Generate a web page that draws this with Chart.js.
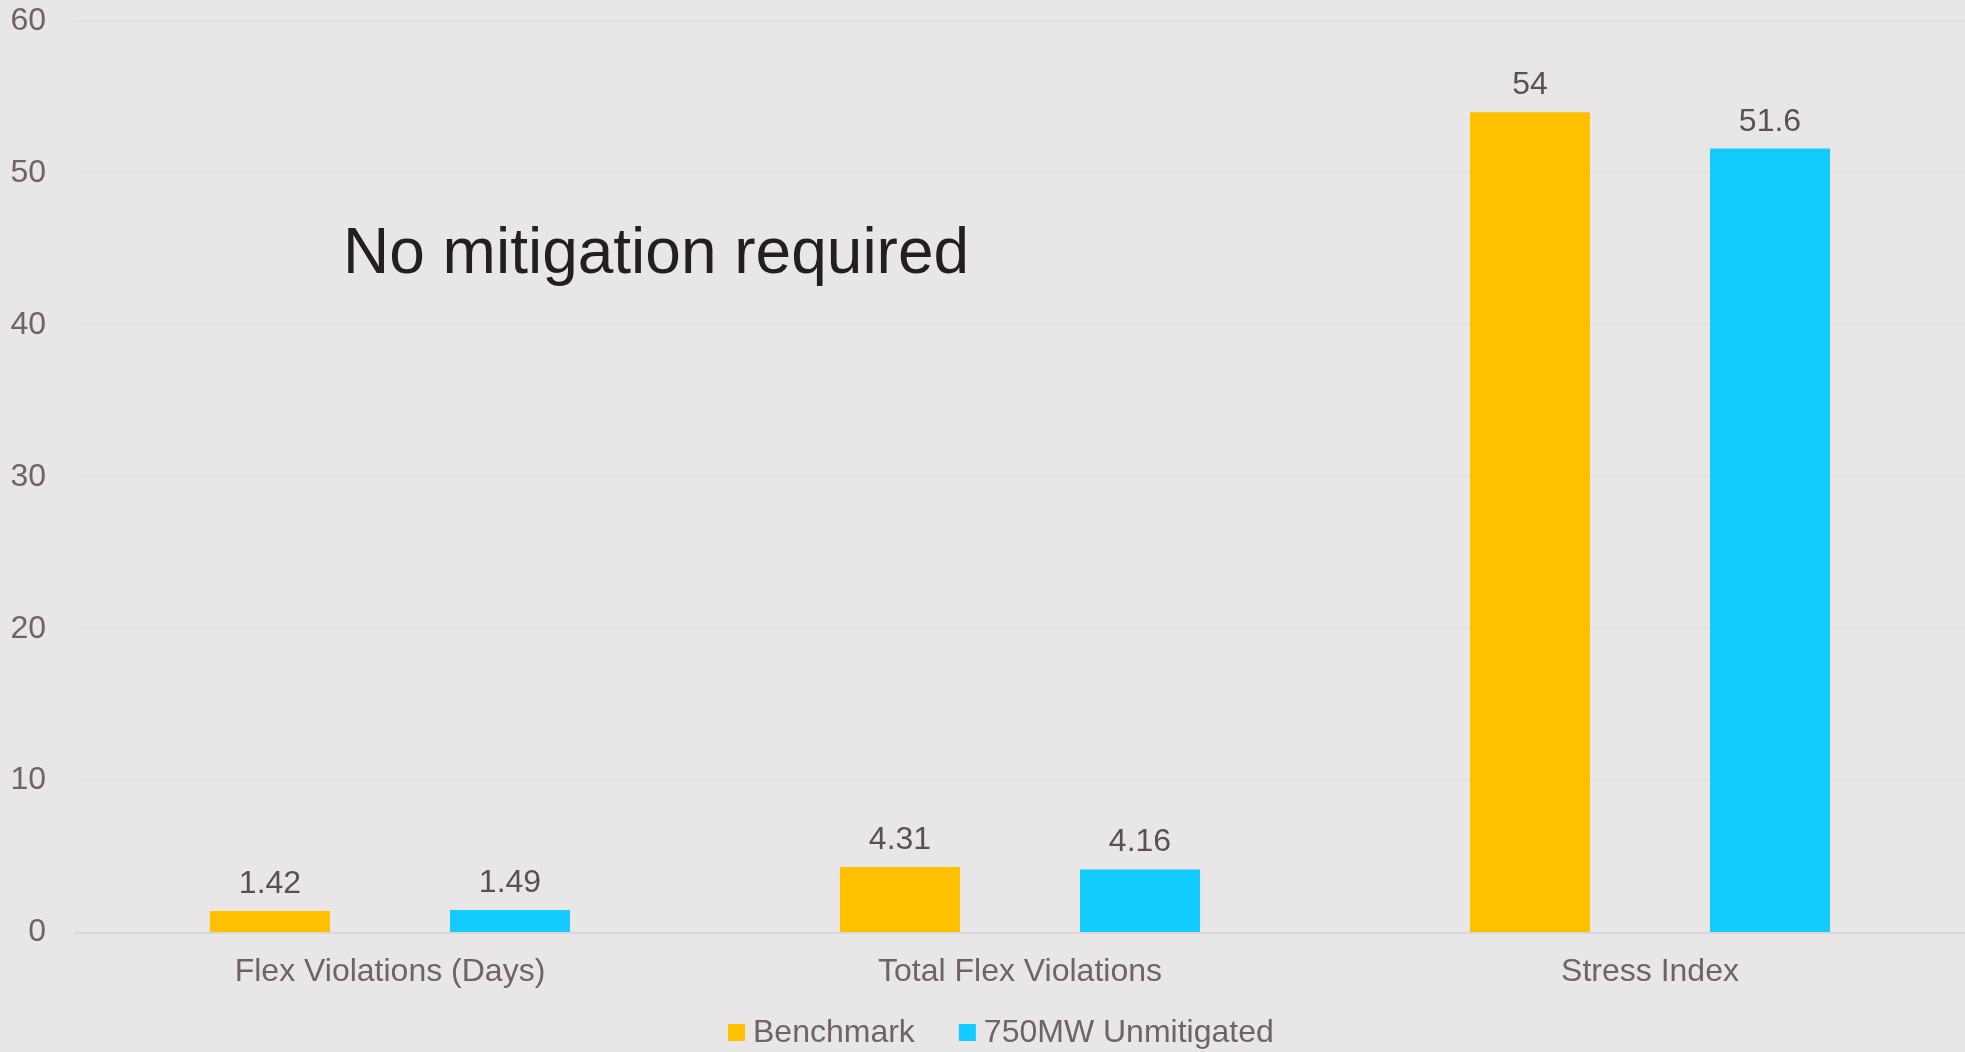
<!DOCTYPE html>
<html>
<head>
<meta charset="utf-8">
<script src="https://cdn.jsdelivr.net/npm/chart.js@4"></script>
<style>
  html, body { margin: 0; padding: 0; background: #e8e6e7; }
  #wrap { width: 1965px; height: 1052px; }
</style>
</head>
<body>
<div id="wrap"><canvas id="flexChart"></canvas></div>
<script>
const categories = ['Flex Violations (Days)', 'Total Flex Violations', 'Stress Index'];
const benchmark = [1.42, 4.31, 54];
const unmitigated = [1.49, 4.16, 51.6];
const yTicks = [0, 10, 20, 30, 40, 50, 60];

const FONT = "'Liberation Sans', Arial, sans-serif";
const TEXT_COLOR = '#6f6369';

// value labels above each bar
const barLabels = {
  id: 'barLabels',
  afterDatasetsDraw(chart) {
    const ctx = chart.ctx;
    ctx.save();
    ctx.font = '32px ' + FONT;
    ctx.fillStyle = '#595055';
    ctx.textAlign = 'center';
    ctx.textBaseline = 'alphabetic';
    chart.data.datasets.forEach((ds, i) => {
      chart.getDatasetMeta(i).data.forEach((bar, j) => {
        ctx.fillText(String(ds.data[j]), bar.x, bar.y - 18);
      });
    });
    ctx.restore();
  }
};

// note text inside the plot
const note = {
  id: 'note',
  afterDraw(chart) {
    const { ctx, chartArea } = chart;
    ctx.save();
    ctx.font = '64px ' + FONT;
    ctx.fillStyle = '#231f20';
    ctx.textAlign = 'left';
    ctx.textBaseline = 'alphabetic';
    ctx.fillText('No mitigation required', chartArea.left + 268, chartArea.top + 252);
    ctx.restore();
  }
};

// small square-swatch legend along the bottom
const bottomLegend = {
  id: 'bottomLegend',
  afterDraw(chart) {
    const ctx = chart.ctx;
    ctx.save();
    ctx.font = '32px ' + FONT;
    ctx.textAlign = 'left';
    ctx.textBaseline = 'middle';
    const y = chart.height - 20;
    let x = 728;
    chart.data.datasets.forEach((ds) => {
      ctx.fillStyle = ds.backgroundColor;
      ctx.fillRect(x, y - 8, 17, 17);
      x += 17 + 8;
      ctx.fillStyle = TEXT_COLOR;
      ctx.fillText(ds.label, x, y + 1);
      x += ctx.measureText(ds.label).width + 44;
    });
    ctx.restore();
  }
};

new Chart(document.getElementById('flexChart'), {
  type: 'bar',
  data: {
    labels: categories,
    datasets: [
      { label: 'Benchmark', data: benchmark, backgroundColor: '#ffc000' },
      { label: '750MW Unmitigated', data: unmitigated, backgroundColor: '#14cbff' }
    ]
  },
  options: {
    responsive: true,
    maintainAspectRatio: false,
    animation: false,
    categoryPercentage: 0.762,
    barPercentage: 0.5,
    layout: { padding: { top: 0, right: 0, left: 0, bottom: 41 } },
    scales: {
      x: {
        grid: { display: false, drawTicks: false },
        border: { color: '#d9d7d8', width: 2 },
        ticks: { color: TEXT_COLOR, font: { family: FONT, size: 32 }, padding: 20 }
      },
      y: {
        min: 0,
        max: 60,
        afterBuildTicks: (scale) => { scale.ticks = yTicks.map(v => ({ value: v })); },
        afterFit: (scale) => {
          scale.width = 75;
          scale.paddingTop = 21;
          scale.paddingBottom = 0;
        },
        grid: { color: '#dcdadb', lineWidth: 1, drawTicks: false },
        border: { display: false },
        ticks: { color: TEXT_COLOR, font: { family: FONT, size: 32 }, padding: 29 }
      }
    },
    plugins: {
      legend: { display: false },
      tooltip: { enabled: false }
    }
  },
  plugins: [barLabels, note, bottomLegend]
});
</script>
</body>
</html>
